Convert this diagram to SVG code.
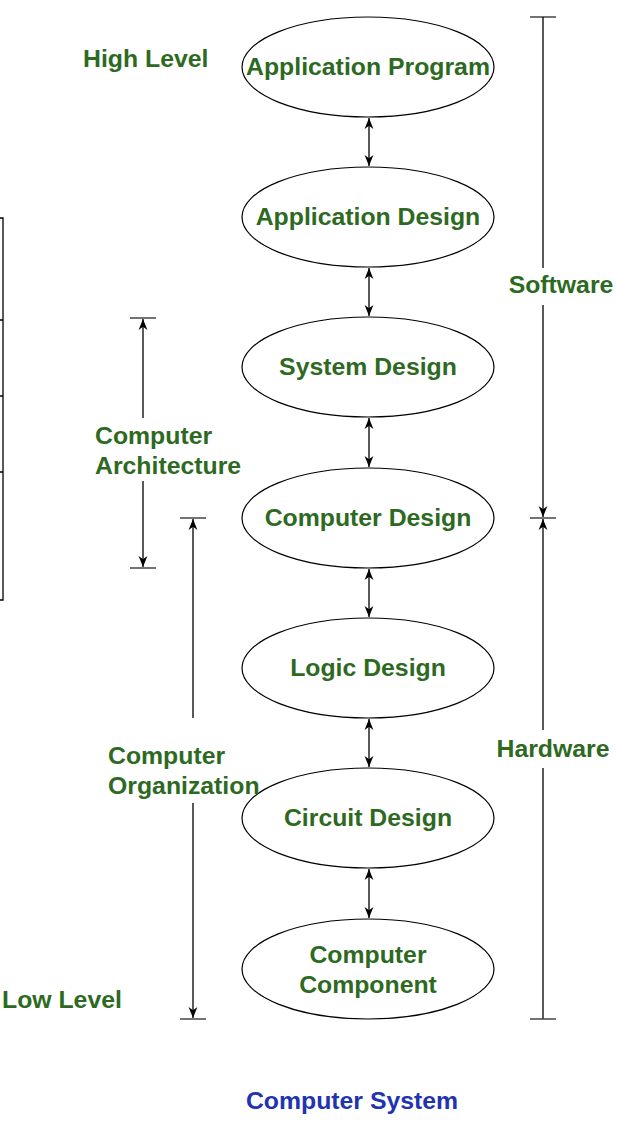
<svg xmlns="http://www.w3.org/2000/svg" width="617" height="1121" viewBox="0 0 617 1121">
<defs>
<marker id="ah" viewBox="0 0 10 10" refX="10" refY="5" markerWidth="11" markerHeight="11" markerUnits="userSpaceOnUse" orient="auto-start-reverse">
<path d="M0,1 L10,5 L0,9 L3,5 Z" fill="#000"/>
</marker>
<style>
.node ellipse{fill:#fff;stroke:#000;stroke-width:1.2}
.t{font-family:"Liberation Sans",Arial,sans-serif;font-weight:bold;font-size:24.8px;fill:#2d6a1f}
.c{text-anchor:middle}
.ln{stroke:#000;stroke-width:1.3;fill:none}
.tk{stroke:#444;stroke-width:1.5;fill:none}
</style>
</defs>
<rect width="617" height="1121" fill="#fff"/>
<path class="ln" d="M0,218 H3 V600 H0 M0,320 H3 M0,396 H3 M0,472 H3" stroke-width="2"/>
<text class="t" x="83" y="67">High Level</text>
<text class="t" x="2" y="1008">Low Level</text>
<g id="n1" class="node"><ellipse cx="368" cy="67" rx="126" ry="50"/><text class="t c" x="368" y="75">Application Program</text></g>
<g id="n2" class="node"><ellipse cx="368" cy="217" rx="126" ry="50"/><text class="t c" x="368" y="225">Application Design</text></g>
<g id="n3" class="node"><ellipse cx="368" cy="367" rx="126" ry="50"/><text class="t c" x="368" y="375">System Design</text></g>
<g id="n4" class="node"><ellipse cx="368" cy="518" rx="126" ry="50"/><text class="t c" x="368" y="526">Computer Design</text></g>
<g id="n5" class="node"><ellipse cx="368" cy="668" rx="126" ry="50"/><text class="t c" x="368" y="676">Logic Design</text></g>
<g id="n6" class="node"><ellipse cx="368" cy="818" rx="126" ry="50"/><text class="t c" x="368" y="826">Circuit Design</text></g>
<g id="n7" class="node"><ellipse cx="368" cy="969" rx="126" ry="50"/><text class="t c" x="368" y="963">Computer</text><text class="t c" x="368" y="993">Component</text></g>
<g id="connectors">
<line class="ln" x1="369" y1="118" x2="369" y2="166" marker-start="url(#ah)" marker-end="url(#ah)"/>
<line class="ln" x1="369" y1="268" x2="369" y2="316" marker-start="url(#ah)" marker-end="url(#ah)"/>
<line class="ln" x1="369" y1="418" x2="369" y2="467" marker-start="url(#ah)" marker-end="url(#ah)"/>
<line class="ln" x1="369" y1="569" x2="369" y2="617" marker-start="url(#ah)" marker-end="url(#ah)"/>
<line class="ln" x1="369" y1="719" x2="369" y2="767" marker-start="url(#ah)" marker-end="url(#ah)"/>
<line class="ln" x1="369" y1="869" x2="369" y2="918" marker-start="url(#ah)" marker-end="url(#ah)"/>
<line class="tk" x1="530" y1="17" x2="556" y2="17"/>
<line class="ln" x1="543" y1="17" x2="543" y2="268"/>
<line class="ln" x1="543" y1="305" x2="543" y2="517" marker-end="url(#ah)"/>
<line class="tk" x1="530" y1="518" x2="556" y2="518"/>
<line class="ln" x1="543" y1="730" x2="543" y2="519" marker-end="url(#ah)"/>
<line class="ln" x1="543" y1="768" x2="543" y2="1019"/>
<line class="tk" x1="530" y1="1019" x2="556" y2="1019"/>
<line class="tk" x1="130" y1="318" x2="156" y2="318"/>
<line class="ln" x1="143" y1="418" x2="143" y2="319" marker-end="url(#ah)"/>
<line class="ln" x1="143" y1="481" x2="143" y2="567" marker-end="url(#ah)"/>
<line class="tk" x1="130" y1="568" x2="156" y2="568"/>
<line class="tk" x1="180" y1="518" x2="206" y2="518"/>
<line class="ln" x1="193" y1="718" x2="193" y2="519" marker-end="url(#ah)"/>
<line class="ln" x1="193" y1="803" x2="193" y2="1018" marker-end="url(#ah)"/>
<line class="tk" x1="180" y1="1019" x2="206" y2="1019"/>
</g>
<text class="t c" x="561" y="293">Software</text>
<text class="t c" x="553" y="757">Hardware</text>
<text class="t" x="95" y="444">Computer</text>
<text class="t" x="95" y="474">Architecture</text>
<text class="t" x="108" y="764">Computer</text>
<text class="t" x="108" y="794">Organization</text>
<text class="t c" x="352" y="1109" style="fill:#2233b0">Computer System</text>
</svg>
